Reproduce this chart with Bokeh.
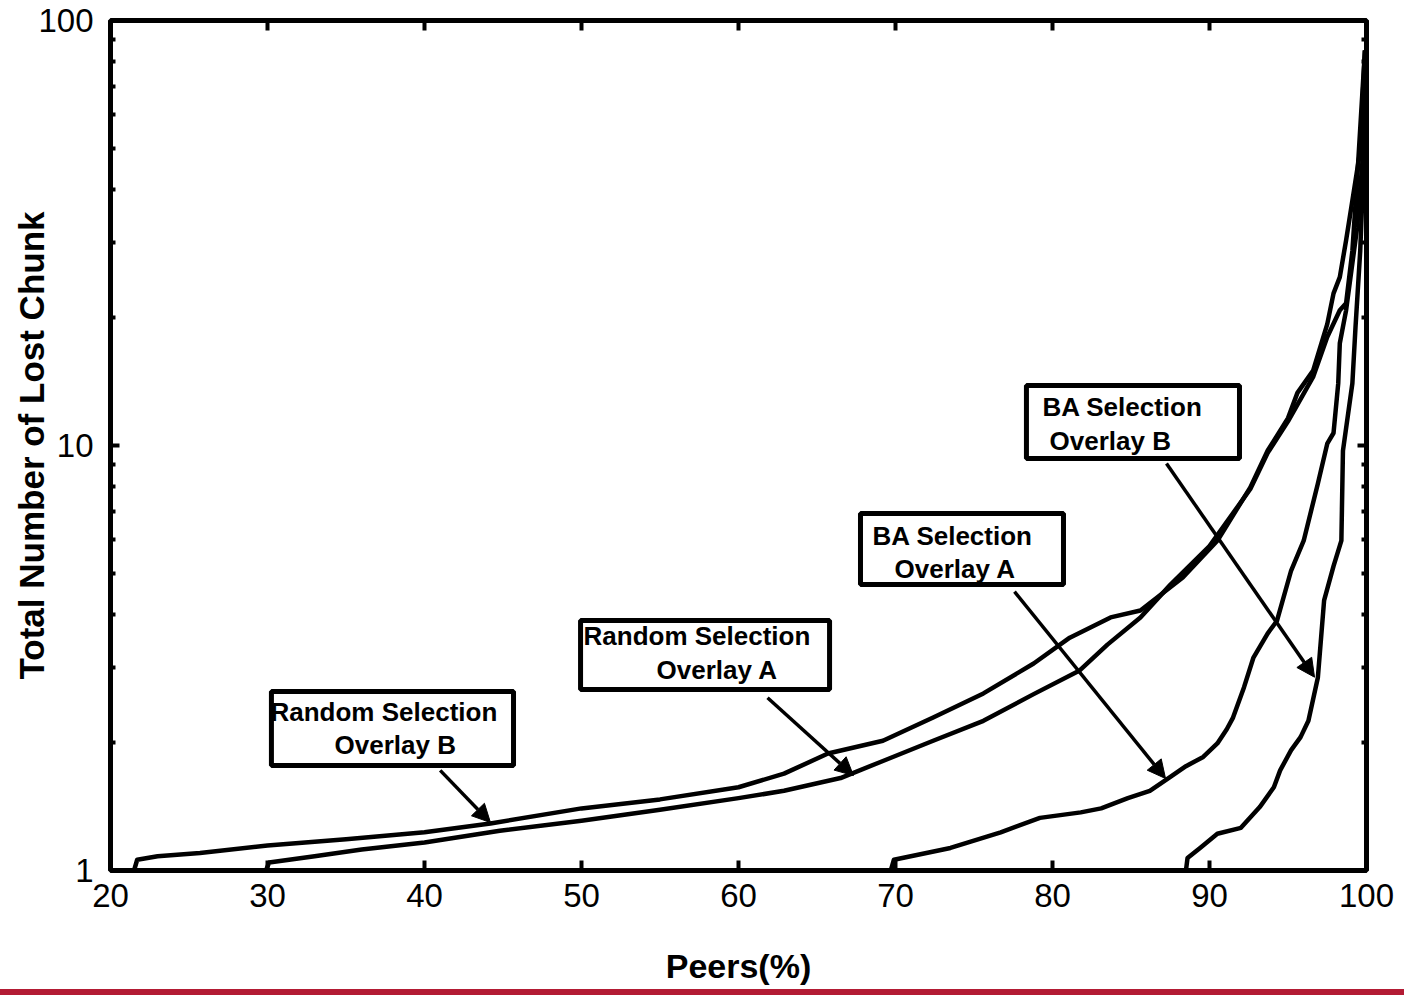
from bokeh.plotting import figure
from bokeh.models import (Range1d, FixedTicker, LinearAxis, LogAxis, Arrow, NormalHead,
                          Div, BasicTickFormatter)
from bokeh.layouts import column
from bokeh.embed import file_html
from bokeh.resources import INLINE
from bokeh.core.properties import value

# ---------------- data ----------------
x_ticks = [20, 30, 40, 50, 60, 70, 80, 90, 100]
y_ticks = [1, 10, 100]
y_minor = [2, 3, 4, 5, 6, 7, 8, 9, 20, 30, 40, 50, 60, 70, 80, 90]

rs_b_x = [21.5, 21.7, 23.0, 25.7, 30.0, 35.0, 40.0, 44.2, 50.0, 55.0, 60.0, 62.9, 65.7, 69.2,
          72.4, 75.6, 78.8, 81.1, 83.7, 85.6, 88.3, 90.5, 92.6, 93.7, 95.0, 95.6, 96.6, 97.5,
          97.9, 98.3, 98.7, 99.1, 99.6, 99.9]
rs_b_y = [1.0, 1.06, 1.08, 1.10, 1.145, 1.185, 1.23, 1.29, 1.40, 1.47, 1.57, 1.69, 1.885, 2.02,
          2.29, 2.61, 3.07, 3.53, 3.94, 4.09, 4.89, 5.97, 7.97, 9.72, 11.6, 13.3, 15.0, 19.3,
          22.8, 24.9, 30.4, 37.7, 49.4, 85.0]

rs_a_x = [29.9, 30.1, 33.0, 36.0, 40.0, 44.8, 50.0, 55.0, 60.0, 62.9, 66.5, 69.2, 72.4, 75.6,
          78.8, 81.7, 83.5, 85.6, 87.5, 90.0, 92.6, 93.7, 95.0, 96.6, 97.5, 98.3, 98.7, 99.1,
          99.4, 99.9]
rs_a_y = [1.0, 1.044, 1.08, 1.12, 1.164, 1.24, 1.31, 1.39, 1.48, 1.54, 1.65, 1.81, 2.02, 2.25,
          2.6, 2.95, 3.4, 3.94, 4.7, 5.8, 7.9, 9.6, 11.4, 14.5, 18.0, 20.8, 21.6, 28.7,
          42.0, 85.0]

ba_a_x = [69.7, 69.9, 73.5, 76.7, 79.2, 81.8, 83.1, 84.8, 86.2, 87.3, 88.5, 89.6, 90.5, 91.1,
          91.5, 92.2, 92.8, 93.7, 94.3, 95.2, 96.0, 96.9, 97.5, 97.9, 98.2, 98.3, 98.7, 99.4,
          99.8, 99.95]
ba_a_y = [1.0, 1.06, 1.13, 1.23, 1.33, 1.37, 1.40, 1.48, 1.54, 1.64, 1.76, 1.85, 1.99, 2.15,
          2.29, 2.70, 3.17, 3.61, 3.87, 5.08, 5.97, 8.13, 10.1, 10.7, 14.0, 17.4, 20.8, 32.5,
          49.4, 85.0]

ba_b_x = [88.5, 88.6, 89.4, 90.5, 92.0, 93.2, 94.1, 94.5, 95.2, 95.8, 96.3, 96.9, 97.3, 97.9,
          98.4, 98.5, 99.1, 99.3, 99.6, 99.85, 99.95]
ba_b_y = [1.0, 1.07, 1.13, 1.22, 1.26, 1.41, 1.57, 1.72, 1.92, 2.06, 2.25, 2.84, 4.32, 5.2,
          5.97, 9.72, 14.0, 19.0, 28.7, 49.0, 85.0]

box_left = [30.25, 49.94, 67.77, 78.34]
box_right = [45.67, 65.80, 80.70, 91.91]
box_bottom = [1.766, 2.666, 4.709, 9.32]
box_top = [2.637, 3.875, 6.918, 13.84]

label_text = ["Random Selection", "Overlay B", "Random Selection", "Overlay A",
              "BA Selection", "Overlay A", "BA Selection", "Overlay B"]
label_x = [30.19, 34.27, 50.13, 54.78, 68.54, 69.94, 79.36, 79.81]
label_y = [2.366, 1.979, 3.553, 2.971, 6.14, 5.135, 12.35, 10.27]

arrow_x0 = [41.0, 61.85, 77.58, 87.26]
arrow_y0 = [1.72, 2.55, 4.53, 9.07]
arrow_x1 = [44.2, 67.32, 87.2, 96.69]
arrow_y1 = [1.297, 1.673, 1.646, 2.85]

FONT = "Liberation Sans"

# ---------------- figure ----------------
p = figure(width=1404, height=989, x_range=Range1d(20, 100), y_range=Range1d(1, 100),
           y_axis_type="log", output_backend="svg", toolbar_location=None,
           min_border_left=110, min_border_right=38, min_border_top=20, min_border_bottom=119,
           x_axis_label="Peers(%)", y_axis_label="Total Number of Lost Chunk")
p.grid.visible = False
p.outline_line_color = "black"
p.outline_line_width = 5
p.background_fill_color = "white"
p.border_fill_color = "white"

xa = p.xaxis[0]
xa.ticker = FixedTicker(ticks=x_ticks, minor_ticks=[])
xa.axis_line_color = None
xa.major_tick_in = 10
xa.major_tick_out = 0
xa.major_tick_line_width = 4
xa.minor_tick_in = 0
xa.minor_tick_out = 0
xa.major_label_text_font = FONT
xa.major_label_text_font_size = "33px"
xa.major_label_text_color = "black"
xa.major_label_standoff = 13
xa.axis_label_text_font = FONT
xa.axis_label_text_font_style = "bold"
xa.axis_label_text_font_size = "34px"
xa.axis_label_text_color = "black"
xa.axis_label_standoff = 37

ya = p.yaxis[0]
ya.ticker = FixedTicker(ticks=y_ticks, minor_ticks=y_minor)
ya.formatter = BasicTickFormatter(use_scientific=False)
ya.axis_line_color = None
ya.major_tick_in = 9
ya.major_tick_out = 0
ya.major_tick_line_width = 4
ya.minor_tick_in = 5
ya.minor_tick_out = 0
ya.minor_tick_line_width = 4
ya.major_label_text_font = FONT
ya.major_label_text_font_size = "33px"
ya.major_label_text_color = "black"
ya.major_label_standoff = 17
ya.axis_label_text_font = FONT
ya.axis_label_text_font_style = "bold"
ya.axis_label_text_font_size = "35px"
ya.axis_label_text_color = "black"
ya.axis_label_standoff = -16

top = LinearAxis(ticker=FixedTicker(ticks=x_ticks, minor_ticks=[]), axis_line_color=None,
                 major_tick_in=10, major_tick_out=0, major_tick_line_width=4,
                 minor_tick_in=0, minor_tick_out=0, major_label_text_font_size="0px",
                 major_label_text_alpha=0, major_label_standoff=0)
p.add_layout(top, "above")
right = LogAxis(ticker=FixedTicker(ticks=y_ticks, minor_ticks=y_minor), axis_line_color=None,
                major_tick_in=9, major_tick_out=0, major_tick_line_width=4,
                minor_tick_in=5, minor_tick_out=0, minor_tick_line_width=4,
                major_label_text_font_size="0px", major_label_text_alpha=0,
                major_label_standoff=0)
p.add_layout(right, "right")

# curves
for xs, ys in [(rs_b_x, rs_b_y), (rs_a_x, rs_a_y), (ba_a_x, ba_a_y), (ba_b_x, ba_b_y)]:
    p.line(xs, ys, line_color="black", line_width=4.5, line_join="round")

# arrows
for x0, y0, x1, y1 in zip(arrow_x0, arrow_y0, arrow_x1, arrow_y1):
    p.add_layout(Arrow(x_start=x0, y_start=y0, x_end=x1, y_end=y1, line_width=3.5,
                       line_color="black",
                       end=NormalHead(size=18, fill_color="black", line_color="black",
                                      line_width=1)))

# boxes
p.quad(left=box_left, right=box_right, bottom=box_bottom, top=box_top,
       fill_color="white", line_color="black", line_width=5)

p.text(x=label_x, y=label_y, text=label_text, text_font=value(FONT),
       text_font_style="bold", text_font_size="26px", text_baseline="middle",
       text_align="left", text_color="black")

bar = Div(text="", width=1404, height=6, margin=(0, 0, 0, 0),
          styles={"background-color": "#B31B34"})

layout = column(p, bar, spacing=0)
open("out.html", "w").write(file_html(layout, INLINE))
